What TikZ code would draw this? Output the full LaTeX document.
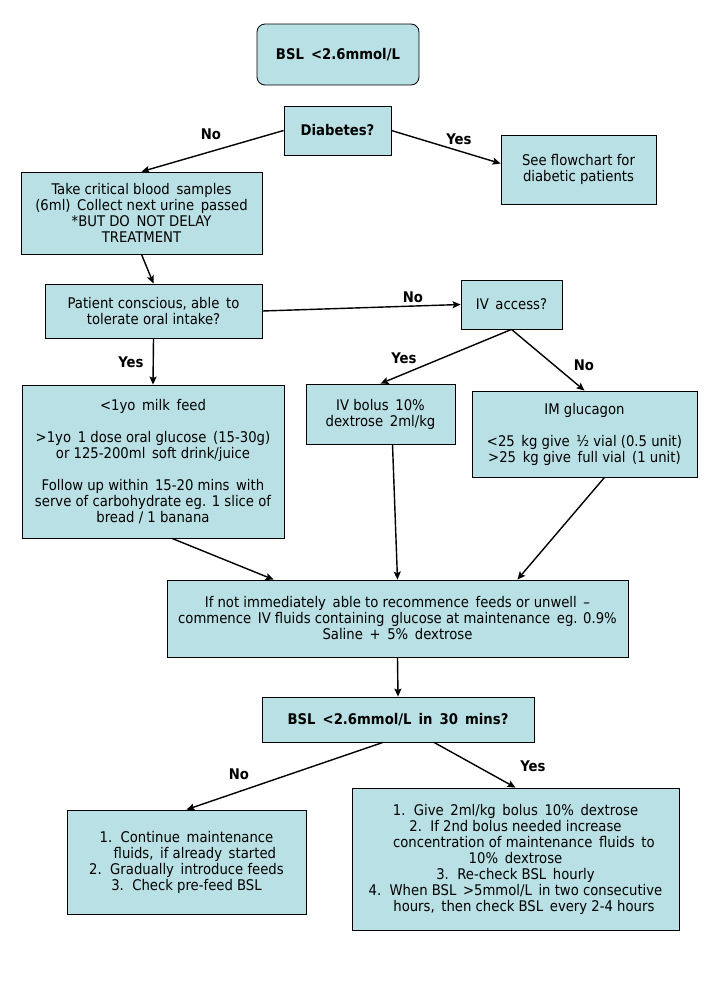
\documentclass[tikz,border=0pt]{standalone}
\usepackage{fontspec}
\setmainfont{DejaVu Sans Condensed}
\usepackage{tikz}
\usetikzlibrary{positioning}
\usetikzlibrary{arrows.meta}
\definecolor{boxblue}{RGB}{185,224,228}
\tikzset{
  box/.style = {draw=black, fill=boxblue, align=center, inner sep=2pt,
    font=\fontsize{14.7}{16}\selectfont, line width=0.8pt},
  qbox/.style = {box, font=\fontsize{14.7}{16}\selectfont\bfseries},% question box, bold
  lbl/.style = {font=\fontsize{14.7}{16}\selectfont\bfseries, inner sep=0pt},
}

\begin{document}
\begin{tikzpicture}[x=1pt,y=-1pt,->,>={Stealth[length=8pt,width=7pt,inset=1.5pt]},line width=1.4pt]
\useasboundingbox (0,0) rectangle (707,983);
\node [qbox, rounded corners=8pt, minimum width=162pt, minimum height=61pt] (bsl) at (338,54.5) {BSL \,<2.6mmol/L};
\node [qbox, minimum width=107pt, minimum height=49pt] (diab) at (337.5,130.5) {Diabetes?};
\node [box, minimum width=155pt, minimum height=69pt] (see) at (578.5,169.5) {See flowchart for\\diabetic patients};
\node [box, minimum width=241pt, minimum height=82pt] (take) at (141.5,213) {Take critical blood \,samples\\(6ml) \,Collect next urine \,passed\\*BUT DO \,NOT DELAY\\TREATMENT};
\node [box, minimum width=217pt, minimum height=54pt] (pat) at (153.5,311) {Patient conscious, able \,to\\tolerate oral intake?};
\node [box, minimum width=101pt, minimum height=49pt] (iv) at (511.5,304.5) {IV \,access?};
\node [box, minimum width=262pt, minimum height=153pt] (milk) at (153,461.5) {<1yo \,milk \,feed\\[16pt]>1yo \,1 dose oral glucose \,(15-30g)\\or 125-200ml \,soft drink/juice\\[16pt]Follow up within \,15-20 mins \,with\\serve of carbohydrate eg. 1 slice of\\bread / 1 banana};
\node [box, minimum width=149pt, minimum height=60pt] (bolus) at (380.5,414) {IV bolus \,10\%\\dextrose \,2ml/kg};
\node [box, minimum width=225pt, minimum height=86pt] (im) at (584.5,434) {IM glucagon\\[16pt]<25 \,kg give \,½ vial (0.5 unit)\\>25 \,kg give \,full vial \,(1 unit)};
\node [box, minimum width=461pt, minimum height=77pt] (fluid) at (397.5,618.5) {If not immediately \,able to recommence \,feeds or unwell \,--\\commence \,IV fluids containing \,glucose at maintenance \,eg. 0.9\%\\Saline \,+ \,5\% \,dextrose};
\node [qbox, minimum width=272pt, minimum height=45pt] (bsl30) at (398,719.5) {BSL \,<2.6mmol/L \,in \,30 \,mins?};
\node [box, minimum width=239pt, minimum height=104pt] (cont) at (186.5,862) {1.\ \ Continue \,maintenance\\\ \ \ \ fluids, \,if already \,started\\2.\ \ Gradually \,introduce feeds\\3.\ \ Check pre-feed BSL};
\node [box, minimum width=327pt, minimum height=142pt] (give) at (515.5,859) {1.\ \ Give \,2ml/kg \,bolus \,10\% \,dextrose\\2.\ \ If 2nd bolus needed increase\\\ \ \ \ concentration of maintenance \,fluids \,to\\10\% \,dextrose\\3.\ \ Re-check BSL \,hourly\\4.\ \ When BSL \,>5mmol/L \,in two consecutive\\\ \ \ \ hours, \,then check BSL \,every 2-4 hours};
% connectors
\draw (diab.west) -- (take.north);
\draw (diab.east) -- ([yshift=6pt]see.west);
\draw (take.south) -- (pat.north);
\draw (pat.east) -- (iv.west);
\draw (pat.south) -- (milk.north);
\draw (iv.south) -- (bolus.north);
\draw (iv.south) -- (im.north);
\draw ([xshift=19pt]milk.south) -- ([xshift=107pt]fluid.north west);
\draw ([xshift=12pt]bolus.south) -- (fluid.north);
\draw ([xshift=20pt]im.south) -- ([xshift=-111pt]fluid.north east);
\draw (fluid.south) -- (bsl30.north);
\draw ([xshift=-15pt]bsl30.south) -- (cont.north);
\draw ([xshift=36pt]bsl30.south) -- (give.north);
% labels
\node [lbl] (no1) at (211,134) {No};
\node [lbl] (yes1) at (459,139) {Yes};
\node [lbl] (no2) at (413,297) {No};
\node [lbl] (yes2) at (131,362) {Yes};
\node [lbl] (yes3) at (404,358) {Yes};
\node [lbl] (no3) at (584,365) {No};
\node [lbl] (no4) at (239,774) {No};
\node [lbl] (yes4) at (533,766) {Yes};
\end{tikzpicture}
\end{document}
